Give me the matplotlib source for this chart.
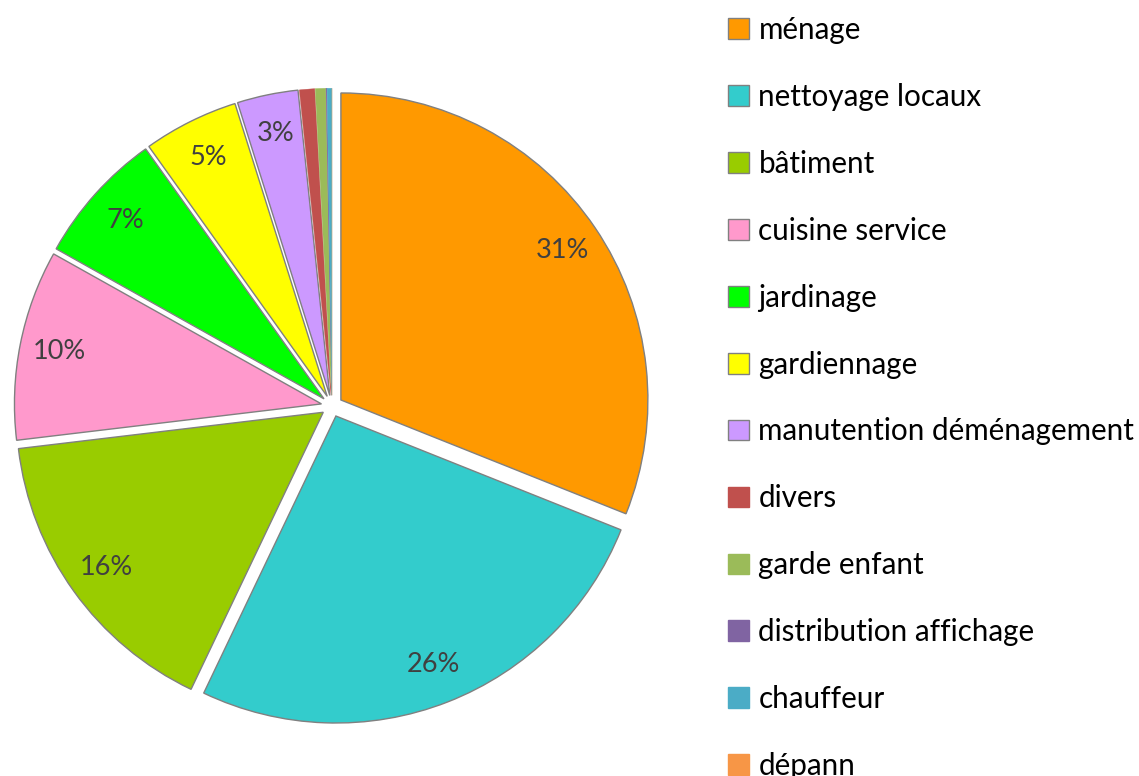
import matplotlib
matplotlib.use("Agg")
import matplotlib.pyplot as plt

categories = ["ménage", "nettoyage locaux", "bâtiment", "cuisine service", "jardinage",
              "gardiennage", "manutention déménagement", "divers", "garde enfant",
              "distribution affichage", "chauffeur", "dépann"]
values = [31.0, 26.0, 16.0, 10.0, 7.0, 5.0, 3.2, 0.8, 0.55, 0.05, 0.25, 0.0]
colors = ["#FF9900", "#33CCCC", "#99CC00", "#FF99CC", "#00FF00", "#FFFF00", "#CC99FF",
          "#C0504D", "#9BBB59", "#8064A2", "#4BACC6", "#F79646"]
edged = [True]*7 + [False]*5

W, H = 1139, 776
fig = plt.figure(figsize=(W/100, H/100), dpi=100)
ax = fig.add_axes([0, 0, 1, 1])

plt.rcParams['font.family'] = ['Lato', 'DejaVu Sans']

def pct(p):
    return f"{p:.0f}%" if p >= 1 else ""

wedges, texts, autotexts = ax.pie(values, colors=colors, startangle=90, counterclock=False,
                                  explode=[0.035]*len(values), autopct=pct, pctdistance=0.87,
                                  wedgeprops=dict(linewidth=1.0),
                                  textprops=dict(fontsize=19.5, color="#404040", family=['Lato', 'DejaVu Sans']))
for w, e in zip(wedges, edged):
    w.set_edgecolor("#808080" if e else w.get_facecolor())
    if not e:
        w.set_linewidth(0.3)

cx, cy, s = 332, 776 - 406, 307
ax.set_aspect('auto')
ax.set_xlim(-cx/s, (W-cx)/s)
ax.set_ylim(-cy/s, (H-cy)/s)
ax.axis('off')

from matplotlib.patches import Patch
handles = [Patch(facecolor=c, edgecolor=("#808080" if e else c), linewidth=1.0) for c, e in zip(colors, edged)]
fig.legend(handles, categories, loc='upper left', bbox_to_anchor=(728/W, 1 - 16/H),
           frameon=False, prop=dict(family=['Lato', 'DejaVu Sans'], size=21.3),
           handlelength=0.7, handleheight=0.7, handletextpad=0.33, labelspacing=1.315,
           borderaxespad=0, borderpad=0)

fig.savefig("out.png", dpi=100)
